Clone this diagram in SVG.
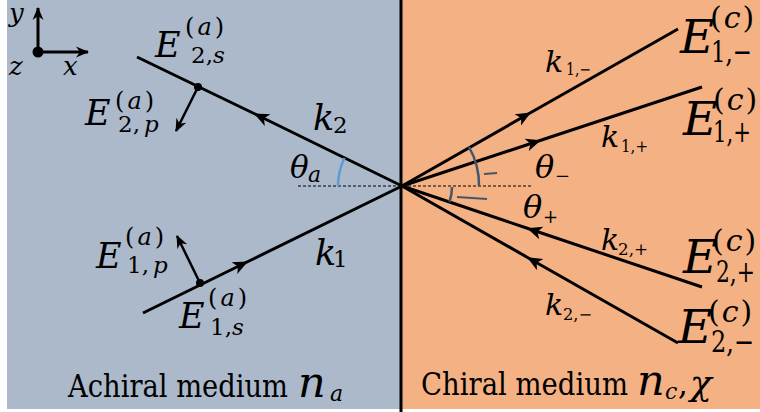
<svg xmlns="http://www.w3.org/2000/svg" width="760" height="412" viewBox="0 0 760 412">
<defs>
<style>
text{font-family:'DejaVu Serif',serif;fill:#000}
.i{font-style:italic}
.ln{fill:none;stroke:#000;stroke-width:3}
.pl{fill:none;stroke:#000;stroke-width:2.5}
</style>
<marker id="ah" viewBox="-16 -8 18 16" refX="0" refY="0" markerWidth="18" markerHeight="16" markerUnits="userSpaceOnUse" orient="auto"><path d="M1,0 L-14,-6.5 L-10,0 L-14,6.5 Z" fill="#000"/></marker>
<marker id="ahs" viewBox="-14 -7 16 14" refX="0" refY="0" markerWidth="16" markerHeight="14" markerUnits="userSpaceOnUse" orient="auto"><path d="M1,0 L-12,-5.5 L-8,0 L-12,5.5 Z" fill="#000"/></marker>
</defs>
<rect x="0" y="0" width="760" height="412" fill="#fff"/>
<g id="achiral-panel"><rect x="7" y="0" width="395" height="409" fill="#ACB9CA"/></g>
<g id="chiral-panel"><rect x="402" y="0" width="358" height="409" fill="#F4B183"/></g>
<g id="interface"><line x1="401" y1="0" x2="401" y2="412" stroke="#000" stroke-width="3"/></g>
<g id="normal"><line x1="298" y1="186" x2="533" y2="186" stroke="#000" stroke-width="1" stroke-dasharray="3,2"/></g>

<g id="axes">
<line x1="38" y1="52" x2="38" y2="8" class="ln" marker-end="url(#ahs)"/>
<line x1="38" y1="52" x2="88" y2="52" class="ln" marker-end="url(#ahs)"/>
<circle cx="38" cy="52" r="5.5" fill="#000"/>
<text class="i" x="9" y="22" font-size="26">y</text>
<text class="i" x="9" y="75" font-size="26">z</text>
<text class="i" x="63" y="75" font-size="26">x</text>
</g>

<g id="connectors">
<polyline class="ln" points="402,186 255,114 137,57" marker-mid="url(#ah)"/>
<polyline class="ln" points="143,313 247,262 402,186" marker-mid="url(#ah)"/>
<polyline class="ln" points="402,186 530,113 678,29" marker-mid="url(#ah)"/>
<polyline class="ln" points="402,186 540,140.5 702,87" marker-mid="url(#ah)" stroke-width="3.5"/>
<polyline class="ln" points="702,287 528,228.5 402,186" marker-mid="url(#ah)" stroke-width="3.5"/>
<polyline class="ln" points="678,343 528,257.7 402,186" marker-mid="url(#ah)"/>
<line class="pl" x1="198" y1="87" x2="176" y2="131" marker-end="url(#ahs)"/>
<line class="pl" x1="200" y1="283" x2="177" y2="236" marker-end="url(#ahs)"/>
<circle cx="198" cy="87" r="4" fill="#000"/>
<circle cx="200" cy="283" r="4" fill="#000"/>
</g>

<g id="angle-a">
<path d="M338,186 A64,64 0 0 1 344.5,158" fill="none" stroke="#5B9BD5" stroke-width="2.5"/>
<text class="i" x="290" y="178" font-size="31">θ</text>
<text class="i" x="308" y="182" font-size="22">a</text>
</g>
<g id="angle-minus">
<path d="M469,147 A77,77 0 0 1 479,186" fill="none" stroke="#44546A" stroke-width="2.5"/>
<line x1="484" y1="174" x2="497" y2="173" stroke="#44546A" stroke-width="2"/>
<text class="i" x="535" y="178" font-size="32">θ</text>
<text x="555" y="182" font-size="18">−</text>
</g>
<g id="angle-plus">
<path d="M452,187 A50,50 0 0 1 449.5,202" fill="none" stroke="#44546A" stroke-width="2.5"/>
<line x1="457" y1="197" x2="487" y2="199" stroke="#44546A" stroke-width="2"/>
<text class="i" x="523" y="218" font-size="32">θ</text>
<text x="543" y="223" font-size="18">+</text>
</g>

<g id="k2"><text class="i" x="313" y="130" font-size="35">k</text><text x="333" y="133" font-size="23">2</text></g>
<g id="k1"><text class="i" x="315" y="265" font-size="35">k</text><text x="333" y="267" font-size="23">1</text></g>

<g id="E2s">
<text class="i" x="155" y="57" font-size="35">E</text>
<text x="185" y="35" font-size="24">(<tspan class="i" dx="3">a</tspan><tspan dx="3">)</tspan></text>
<text x="191" y="63" font-size="23">2,<tspan class="i">s</tspan></text>
</g>
<g id="E2p">
<text class="i" x="85" y="125" font-size="35">E</text>
<text x="115" y="109" font-size="24">(<tspan class="i" dx="3">a</tspan><tspan dx="3">)</tspan></text>
<text x="118" y="132" font-size="23">2,<tspan class="i" dx="4">p</tspan></text>
</g>
<g id="E1p">
<text class="i" x="96" y="268" font-size="35">E</text>
<text x="125" y="245" font-size="24">(<tspan class="i" dx="3">a</tspan><tspan dx="3">)</tspan></text>
<text x="127" y="273" font-size="23">1,<tspan class="i" dx="4">p</tspan></text>
</g>
<g id="E1s">
<text class="i" x="179" y="328" font-size="35">E</text>
<text x="208" y="306" font-size="24">(<tspan class="i" dx="3">a</tspan><tspan dx="3">)</tspan></text>
<text x="210" y="335" font-size="23">1,<tspan class="i">s</tspan></text>
</g>

<g id="k1m"><text class="i" x="545" y="72" font-size="30">k</text><text x="566" y="75" font-size="16" textLength="25" lengthAdjust="spacingAndGlyphs">1,−</text></g>
<g id="k1p"><text class="i" x="601" y="147" font-size="30">k</text><text x="621" y="152" font-size="16" textLength="27" lengthAdjust="spacingAndGlyphs">1,+</text></g>
<g id="k2p"><text class="i" x="601" y="250" font-size="30">k</text><text x="618" y="255" font-size="16" textLength="30" lengthAdjust="spacingAndGlyphs">2,+</text></g>
<g id="k2m"><text class="i" x="545" y="315" font-size="30">k</text><text x="563" y="320" font-size="16" textLength="29" lengthAdjust="spacingAndGlyphs">2,−</text></g>

<g id="E1m">
<text class="i" x="680" y="53" font-size="47">E</text>
<text x="710" y="28" font-size="30">(<tspan class="i" dx="2">c</tspan><tspan dx="2">)</tspan></text>
<text x="711" y="62" font-size="30" textLength="41" lengthAdjust="spacingAndGlyphs">1,−</text>
</g>
<g id="E1p-c">
<text class="i" x="683" y="135" font-size="47">E</text>
<text x="713" y="110" font-size="30">(<tspan class="i" dx="2">c</tspan><tspan dx="2">)</tspan></text>
<text x="713" y="142" font-size="30" textLength="38" lengthAdjust="spacingAndGlyphs">1,+</text>
</g>
<g id="E2p-c">
<text class="i" x="683" y="273" font-size="47">E</text>
<text x="712" y="251" font-size="30">(<tspan class="i" dx="2">c</tspan><tspan dx="2">)</tspan></text>
<text x="716" y="282" font-size="30" textLength="39" lengthAdjust="spacingAndGlyphs">2,+</text>
</g>
<g id="E2m-c">
<text class="i" x="678" y="343" font-size="47">E</text>
<text x="708" y="322" font-size="30">(<tspan class="i" dx="2">c</tspan><tspan dx="2">)</tspan></text>
<text x="711" y="352" font-size="30" textLength="43" lengthAdjust="spacingAndGlyphs">2,−</text>
</g>

<g id="label-achiral">
<text x="68" y="397" font-size="31" textLength="220" lengthAdjust="spacingAndGlyphs">Achiral medium</text>
<text class="i" x="298" y="397" font-size="43">n</text>
<text class="i" x="330" y="401" font-size="22">a</text>
</g>
<g id="label-chiral">
<text x="421" y="395" font-size="31" textLength="207" lengthAdjust="spacingAndGlyphs">Chiral medium</text>
<text class="i" x="637" y="395" font-size="43">n</text>
<text class="i" x="665" y="399" font-size="22">c</text>
<text x="678" y="395" font-size="31">,</text>
<text class="i" x="690" y="395" font-size="36">χ</text>
</g>
</svg>
